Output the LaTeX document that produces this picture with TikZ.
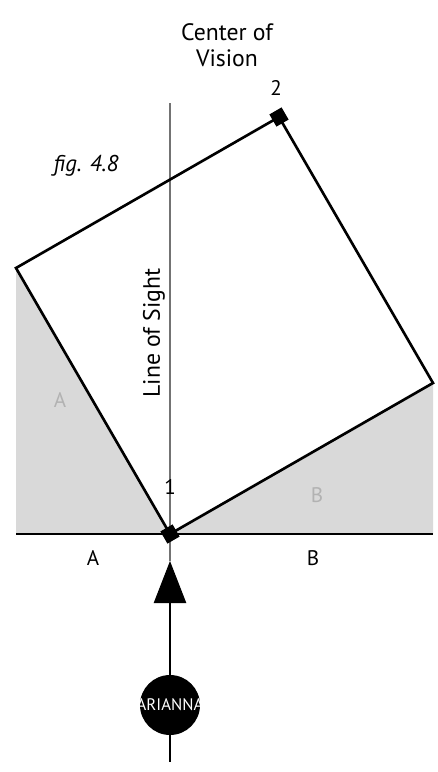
\documentclass[tikz,border=0pt]{standalone}
\usepackage{fontspec}
\setmainfont{PT Sans}
\usetikzlibrary{positioning,arrows.meta}

\begin{document}
\begin{tikzpicture}[
    x=0.02cm, y=-0.02cm,
    shade/.style={fill=black!15},
    edge/.style={line width=1.5pt, line join=miter},
    sight/.style={draw=black!55, line width=0.6pt},
    marker/.style={rectangle, fill=black, minimum size=8pt, inner sep=0pt, rotate=30},
    viewer/.style={circle, fill=black, minimum size=1.2cm, inner sep=0pt},
    look/.style={line width=0.6pt, -{Triangle[length=24pt, width=18.5pt]}},
    label/.style={font=\fontsize{12}{14}\selectfont},
    faint/.style={label, text=black!30}
]
\useasboundingbox (0,0) rectangle (437,772);

% corners of the square and ends of the base line
\coordinate (p1) at (170,534);
\coordinate (pl) at (16,268);
\coordinate (p2) at (279,117);
\coordinate (pr) at (433,383);
\coordinate (gl) at (16,534);
\coordinate (gr) at (433,534);
\coordinate (top) at (170,103);
\coordinate (tip) at (170,561);
\coordinate (tail) at (170,762);

% shaded regions
\fill[shade] (gl) -- (pl) -- (p1) -- cycle;
\fill[shade] (p1) -- (pr) -- (gr) -- cycle;

\draw[sight] (top) -- (tip);
\draw[edge] (p1) -- (pl) -- (p2) -- (pr) -- cycle;
\draw[edge] (gl) -- (gr);

\node[marker] (m1) at (p1) {};
\node[marker] (m2) at (p2) {};

\node[viewer] (arianna) at (170,705) {};
\node[text=white, font=\fontsize{9.5}{11}\selectfont] (ariannatxt) at (arianna) {ARIANNA};
\draw[look] (arianna.north) -- (tip);
\draw[line width=0.6pt] (arianna.south) -- (tail);

\node[align=center, font=\fontsize{13.5}{14.5}\selectfont] (cov) at (227,45) {Center of\\Vision};
\node[rotate=90, font=\fontsize{13.5}{15}\selectfont] (los) at (154,333) {Line of Sight};
\node[font=\fontsize{13}{15}\selectfont\itshape] (fig) at (86,166) {fig. 4.8};
\node[label] (n1) at (170,487) {1};
\node[label] (n2) at (276,88) {2};
\node[label] (la) at (93,558) {A};
\node[label] (lb) at (313,558) {B};
\node[faint] (fa) at (60,400) {A};
\node[faint] (fb) at (317,495) {B};
\end{tikzpicture}
\end{document}
